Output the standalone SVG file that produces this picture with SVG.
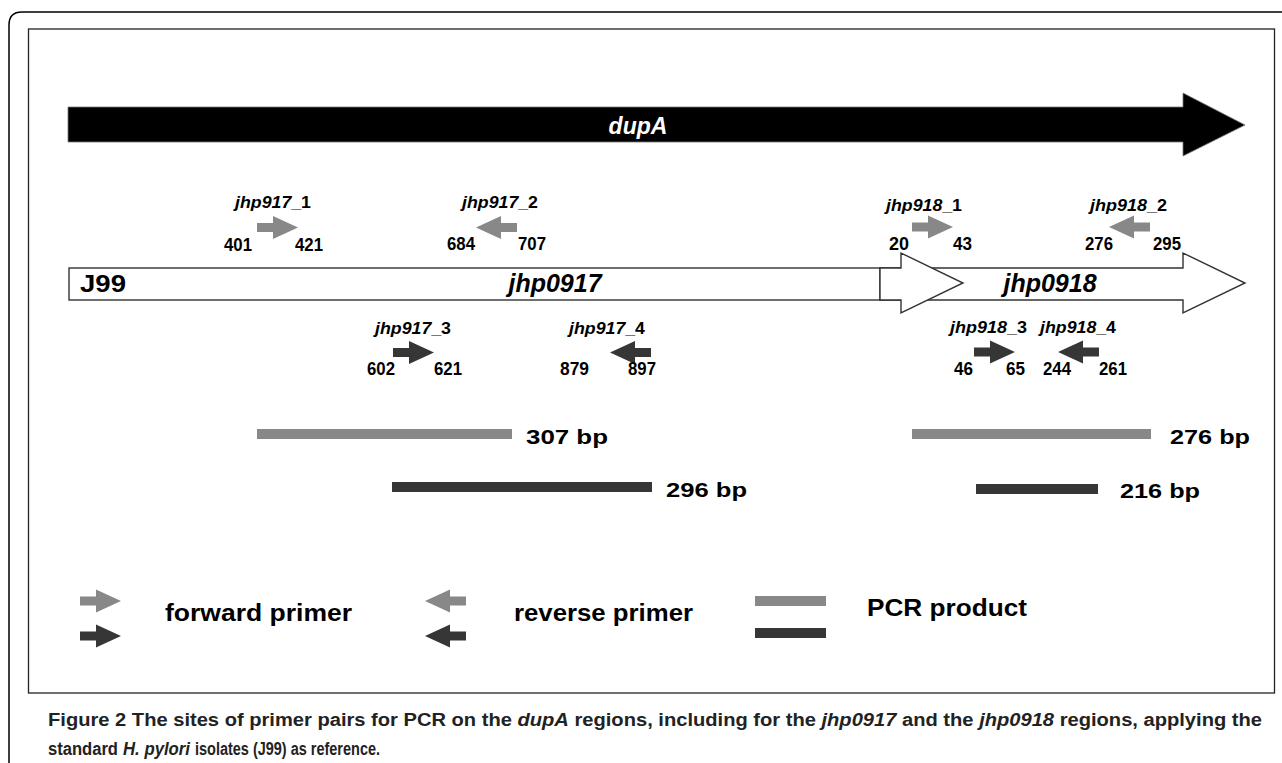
<svg xmlns="http://www.w3.org/2000/svg" xmlns:xlink="http://www.w3.org/1999/xlink" width="1282" height="763" viewBox="0 0 1282 763">
<style>
.t{font-family:"Liberation Sans Narrow","Liberation Sans",Arial,sans-serif;font-weight:bold;fill:#000}
.lab{font-size:16px;font-style:italic}
.up{font-style:normal}
.num{font-size:18px}
.gene{font-size:25px;font-style:italic}
.bp{font-size:21px}
.leg{font-size:23px}
.cap{font-family:"Liberation Sans Narrow","Liberation Sans",Arial,sans-serif;font-weight:bold;font-size:17.5px;fill:#222}
.it{font-style:italic}
.lt{fill:#888888}
.dk{fill:#363636}
.box{fill:#fff;stroke:#333;stroke-width:1.4}
</style>
<defs>
<path id="fwd" d="M0,-4.5 H16 V-11.5 L41,0 L16,11.5 V4.5 H0 Z"/>
<path id="rev" d="M41,-4.5 H25 V-11.5 L0,0 L25,11.5 V4.5 H41 Z"/>
</defs>
<g id="frame">
<path d="M9,763 V25 Q9,12 22,12 H1282" fill="none" stroke="#000" stroke-width="1.5"/>
<rect x="28.5" y="29" width="1246" height="664" fill="none" stroke="#222" stroke-width="1.3"/>
</g>
<g id="dupA">
<polygon points="68,107 1183,107 1183,93 1245,125 1183,156 1183,142 68,142" fill="#000" stroke="#777" stroke-width="0.8"/>
<text class="t" x="638" y="134" text-anchor="middle" font-size="23" font-style="italic" style="fill:#fff">dupA</text>
</g>
<g id="jhp0918">
<polygon class="box" points="880,268 1183,268 1183,253 1245,283 1183,313 1183,300 880,300"/>
<text class="t gene" x="1050" y="292" text-anchor="middle">jhp0918</text>
</g>
<g id="jhp0917">
<rect class="box" x="69" y="268" width="811" height="32"/>
<polygon class="box" points="880,268 901,268 901,253 963,283 901,313 901,300 880,300"/>
<text class="t" x="80" y="292" font-size="23" textLength="46" lengthAdjust="spacingAndGlyphs">J99</text>
<text class="t gene" x="555" y="292" text-anchor="middle">jhp0917</text>
</g>
<g id="primers">
<g id="p917_1">
<text class="t lab" x="235" y="208" textLength="76" lengthAdjust="spacingAndGlyphs">jhp917<tspan class="up">_1</tspan></text>
<use href="#fwd" x="257" y="227.5" class="lt"/>
<text class="t num" x="224" y="251" textLength="28" lengthAdjust="spacingAndGlyphs">401</text>
<text class="t num" x="295" y="251" textLength="28" lengthAdjust="spacingAndGlyphs">421</text>
</g>
<g id="p917_2">
<text class="t lab" x="462" y="208" textLength="76" lengthAdjust="spacingAndGlyphs">jhp917<tspan class="up">_2</tspan></text>
<use href="#rev" x="476" y="227.5" class="lt"/>
<text class="t num" x="447" y="250" textLength="28" lengthAdjust="spacingAndGlyphs">684</text>
<text class="t num" x="518" y="250" textLength="28" lengthAdjust="spacingAndGlyphs">707</text>
</g>
<g id="p917_3">
<text class="t lab" x="375" y="334" textLength="76" lengthAdjust="spacingAndGlyphs">jhp917<tspan class="up">_3</tspan></text>
<use href="#fwd" x="393" y="352.5" class="dk"/>
<text class="t num" x="367" y="375" textLength="28" lengthAdjust="spacingAndGlyphs">602</text>
<text class="t num" x="434" y="375" textLength="28" lengthAdjust="spacingAndGlyphs">621</text>
</g>
<g id="p917_4">
<text class="t lab" x="569" y="334" textLength="76" lengthAdjust="spacingAndGlyphs">jhp917<tspan class="up">_4</tspan></text>
<use href="#rev" x="610" y="352.5" class="dk"/>
<text class="t num" x="560" y="375" textLength="29" lengthAdjust="spacingAndGlyphs">879</text>
<text class="t num" x="628" y="375" textLength="28" lengthAdjust="spacingAndGlyphs">897</text>
</g>
<g id="p918_1">
<text class="t lab" x="886" y="211" textLength="76" lengthAdjust="spacingAndGlyphs">jhp918<tspan class="up">_1</tspan></text>
<use href="#fwd" x="912" y="227" class="lt"/>
<text class="t num" x="889" y="250" textLength="20" lengthAdjust="spacingAndGlyphs">20</text>
<text class="t num" x="953" y="250" textLength="19" lengthAdjust="spacingAndGlyphs">43</text>
</g>
<g id="p918_2">
<text class="t lab" x="1090" y="211" textLength="77" lengthAdjust="spacingAndGlyphs">jhp918<tspan class="up">_2</tspan></text>
<use href="#rev" x="1109" y="227" class="lt"/>
<text class="t num" x="1085" y="250" textLength="28" lengthAdjust="spacingAndGlyphs">276</text>
<text class="t num" x="1153" y="250" textLength="28" lengthAdjust="spacingAndGlyphs">295</text>
</g>
<g id="p918_3">
<text class="t lab" x="950" y="333" textLength="77" lengthAdjust="spacingAndGlyphs">jhp918<tspan class="up">_3</tspan></text>
<use href="#fwd" x="974" y="352" class="dk"/>
<text class="t num" x="954" y="375" textLength="19" lengthAdjust="spacingAndGlyphs">46</text>
<text class="t num" x="1006" y="375" textLength="19" lengthAdjust="spacingAndGlyphs">65</text>
</g>
<g id="p918_4">
<text class="t lab" x="1040" y="333" textLength="76" lengthAdjust="spacingAndGlyphs">jhp918<tspan class="up">_4</tspan></text>
<use href="#rev" x="1058" y="352" class="dk"/>
<text class="t num" x="1043" y="375" textLength="28" lengthAdjust="spacingAndGlyphs">244</text>
<text class="t num" x="1099" y="375" textLength="28" lengthAdjust="spacingAndGlyphs">261</text>
</g>
</g>
<g id="products">
<g id="pcr307"><rect class="lt" x="257" y="429" width="255" height="10"/><text class="t bp" x="526" y="444" textLength="82" lengthAdjust="spacingAndGlyphs">307 bp</text></g>
<g id="pcr296"><rect class="dk" x="392" y="482" width="260" height="10"/><text class="t bp" x="666" y="497" textLength="81" lengthAdjust="spacingAndGlyphs">296 bp</text></g>
<g id="pcr276"><rect class="lt" x="912" y="429" width="239" height="10"/><text class="t bp" x="1170" y="444" textLength="80" lengthAdjust="spacingAndGlyphs">276 bp</text></g>
<g id="pcr216"><rect class="dk" x="976" y="484" width="122" height="10"/><text class="t bp" x="1120" y="498" textLength="80" lengthAdjust="spacingAndGlyphs">216 bp</text></g>
</g>
<g id="legend">
<g id="leg-fwd">
<use href="#fwd" x="80" y="601" class="lt"/>
<use href="#fwd" x="80" y="636" class="dk"/>
<text class="t leg" x="165" y="621" textLength="187" lengthAdjust="spacingAndGlyphs">forward primer</text>
</g>
<g id="leg-rev">
<use href="#rev" x="425" y="601" class="lt"/>
<use href="#rev" x="425" y="636" class="dk"/>
<text class="t leg" x="514" y="621" textLength="179" lengthAdjust="spacingAndGlyphs">reverse primer</text>
</g>
<g id="leg-pcr">
<rect class="lt" x="755" y="596" width="71" height="10"/>
<rect class="dk" x="755" y="628" width="71" height="10"/>
<text class="t leg" x="867" y="616" textLength="160" lengthAdjust="spacingAndGlyphs">PCR product</text>
</g>
</g>
<g id="caption">
<text class="cap" x="48" y="726" textLength="1214" lengthAdjust="spacingAndGlyphs">Figure 2 The sites of primer pairs for PCR on the <tspan class="it">dupA</tspan> regions, including for the <tspan class="it">jhp0917</tspan> and the <tspan class="it">jhp0918</tspan> regions, applying the</text>
<text class="cap" x="48" y="755" textLength="70" lengthAdjust="spacingAndGlyphs">standard</text>
<text class="cap it" x="123" y="755" textLength="67" lengthAdjust="spacingAndGlyphs">H. pylori</text>
<text class="cap" x="195" y="755" textLength="185" lengthAdjust="spacingAndGlyphs">isolates (J99) as reference.</text>
</g>
</svg>
